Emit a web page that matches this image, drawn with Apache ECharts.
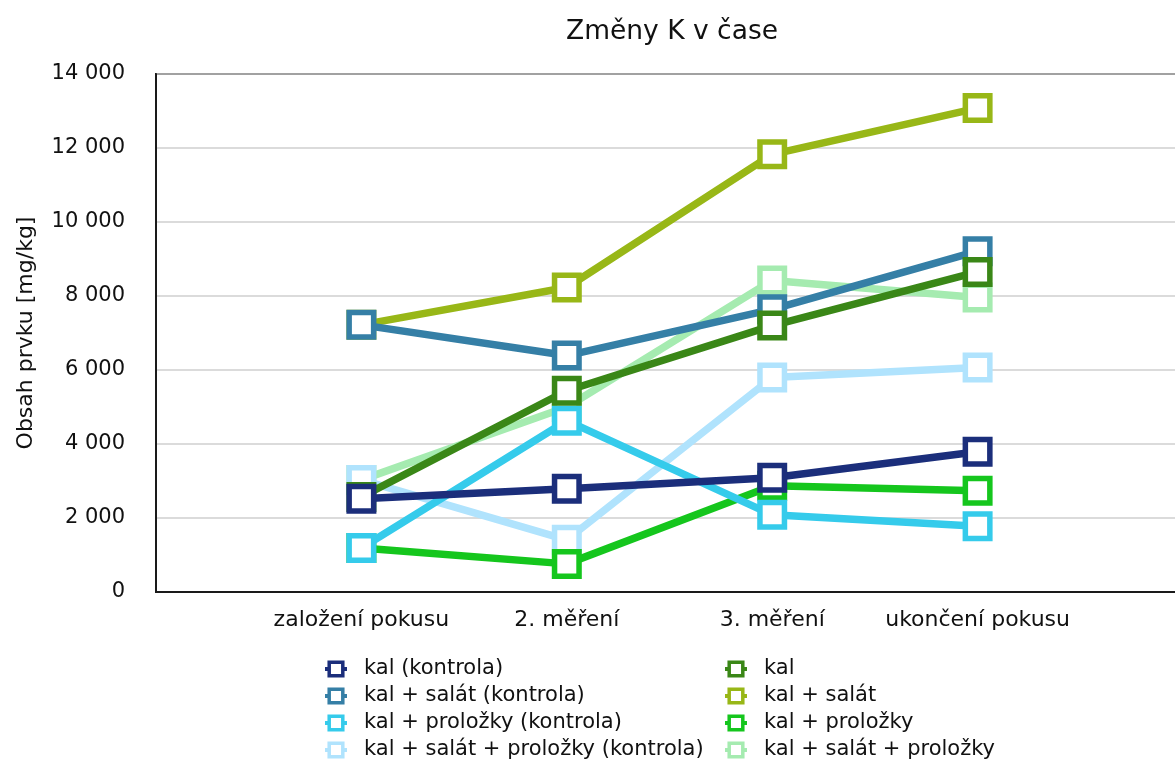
<!DOCTYPE html>
<html>
<head>
<meta charset="utf-8">
<script src="https://cdn.jsdelivr.net/npm/echarts@6/dist/echarts.min.js"></script>
<style>html,body{margin:0;padding:0;background:#fff;overflow:hidden;}#c{width:1186px;height:767px;}</style>
</head>
<body>
<div id="c"></div>
<script>
const categories = ['založení pokusu', '2. měření', '3. měření', 'ukončení pokusu'];
const yTicks = [0, 2000, 4000, 6000, 8000, 10000, 12000, 14000];

const seriesNames = [
  'kal (kontrola)',
  'kal + salát (kontrola)',
  'kal + proložky (kontrola)',
  'kal + salát + proložky (kontrola)',
  'kal',
  'kal + salát',
  'kal + proložky',
  'kal + salát + proložky'
];
const kalKontrola = [2520, 2790, 3090, 3790];
const kalSalatKontrola = [7220, 6390, 7640, 9210];
const kalProlozkyKontrola = [1190, 4630, 2085, 1780];
const kalSalatProlozkyKontrola = [3030, 1410, 5795, 6065];
const kal = [2570, 5440, 7200, 8650];
const kalSalat = [7220, 8230, 11830, 13080];
const kalProlozky = [1190, 760, 2870, 2735];
const kalSalatProlozky = [3030, 5000, 8420, 7960];

const seriesValues = [kalKontrola, kalSalatKontrola, kalProlozkyKontrola, kalSalatProlozkyKontrola,
  kal, kalSalat, kalProlozky, kalSalatProlozky];
const colors = ['#1b2e7b', '#357fa6', '#35cbeb', '#b0e3fd', '#3a8717', '#98b717', '#15c61d', '#a5ebb0'];
const zOrder = [8, 3, 6, 4, 7, 2, 5, 1];

const FONT = 'DejaVu Sans';
const xData = [''].concat(categories, ['']);

const series = seriesNames.map((name, i) => ({
  name: name,
  type: 'line',
  data: [null].concat(seriesValues[i], [null]),
  z: zOrder[i],
  symbol: 'rect',
  symbolSize: 24.5,
  showAllSymbol: true,
  lineStyle: { color: colors[i], width: 7.5 },
  itemStyle: { color: '#ffffff', borderColor: colors[i], borderWidth: 5.5 },
  emphasis: { disabled: true },
  animation: false
}));

const legendCommon = {
  orient: 'vertical',
  padding: 0,
  itemWidth: 22,
  itemHeight: 17,
  itemGap: 5,
  height: 140,
  itemStyle: { borderWidth: 3.5 },
  lineStyle: { width: 4 },
  textStyle: { fontFamily: FONT, fontSize: 21, color: '#111', lineHeight: 22, padding: [0, 0, 0, 12] },
  selectedMode: false
};

const chart = echarts.init(document.getElementById('c'), null, { renderer: 'canvas' });
chart.setOption({
  backgroundColor: '#ffffff',
  animation: false,
  title: {
    text: 'Změny K v čase',
    left: 561,
    top: 14,
    textStyle: { fontFamily: FONT, fontSize: 26.5, fontWeight: 'normal', color: '#111' }
  },
  legend: [
    Object.assign({}, legendCommon, { left: 323, top: 658, data: seriesNames.slice(0, 4) }),
    Object.assign({}, legendCommon, { left: 723, top: 658, data: seriesNames.slice(4, 8) })
  ],
  grid: {
    left: 156, right: 0, top: 74, bottom: 175,
    show: true, borderColor: '#1a1a1a', borderWidth: 2, backgroundColor: 'transparent'
  },
  xAxis: {
    type: 'category',
    data: xData,
    boundaryGap: false,
    axisLine: { show: true, lineStyle: { color: '#1a1a1a', width: 2 } },
    axisTick: { show: false },
    axisLabel: { interval: 0, margin: 17, fontFamily: FONT, fontSize: 22, color: '#111' },
    splitLine: { show: false }
  },
  yAxis: {
    type: 'value',
    min: yTicks[0],
    max: yTicks[yTicks.length - 1],
    interval: yTicks[1] - yTicks[0],
    name: 'Obsah prvku [mg/kg]',
    nameLocation: 'middle',
    nameGap: 119,
    nameTextStyle: { fontFamily: FONT, fontSize: 22, color: '#111' },
    axisLine: { show: true, lineStyle: { color: '#1a1a1a', width: 2 } },
    axisTick: { show: false },
    axisLabel: {
      margin: 31, fontFamily: FONT, fontSize: 21, color: '#111',
      formatter: v => String(v).replace(/\B(?=(\d{3})+(?!\d))/g, ' ')
    },
    splitLine: { show: true, lineStyle: { color: '#cfcfcf', width: 1.5 } }
  },
  series: series
});
</script>
</body>
</html>
